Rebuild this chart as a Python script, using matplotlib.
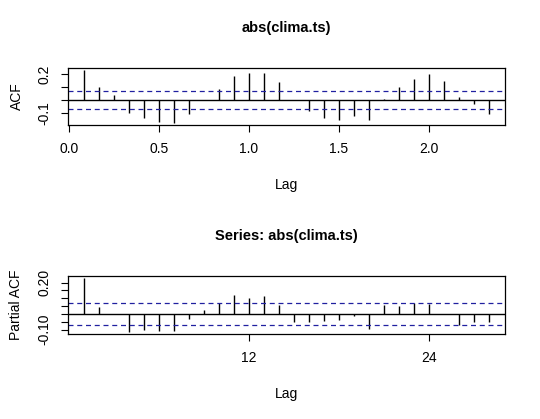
import matplotlib
matplotlib.use("Agg")
import matplotlib.pyplot as plt
import numpy as np

plt.rcParams['font.family'] = ['Liberation Sans', 'DejaVu Sans']

acf_lag = np.arange(1, 29) / 12
acf_vals = [0.23, 0.096, 0.036, -0.099, -0.14, -0.17, -0.177, -0.106, -0.005, 0.083,
            0.182, 0.203, 0.21, 0.138, -0.005, -0.09, -0.138, -0.156, -0.125, -0.158,
            0.01, 0.099, 0.16, 0.197, 0.145, 0.023, -0.036, -0.11]
pacf_lag = np.arange(1, 29)
pacf_vals = [0.228, 0.044, 0.0, -0.114, -0.103, -0.112, -0.107, -0.035, 0.026, 0.068,
             0.123, 0.103, 0.112, 0.055, -0.05, -0.053, -0.046, -0.037, -0.013, -0.099,
             0.055, 0.051, 0.07, 0.063, 0.0, -0.07, -0.05, -0.05]
ci = 0.071

fig = plt.figure(figsize=(5.4, 4.19), dpi=100)
fs = 10

def panel(rect, lag, vals, title, ylabel, xticks, xlabels, yticks, ylabels):
    ax = fig.add_axes(rect)
    ax.vlines(lag, 0, vals, color='black', lw=1)
    ax.axhline(0, color='black', lw=1)
    for s in (ci, -ci):
        ax.axhline(s, color='#2020a0', lw=0.9, ls=(0, (4, 3)))
    lo, hi = min(lag), max(lag)
    ex = (hi - lo) * 0.04
    ax.set_xlim(lo - ex, hi + ex)
    ylo, yhi = min(vals), max(vals)
    ey = (yhi - ylo) * 0.04
    ax.set_ylim(ylo - ey, yhi + ey)
    ax.set_xticks(xticks)
    ax.set_xticklabels(xlabels, fontsize=fs)
    ax.set_yticks(yticks)
    ax.set_yticklabels(ylabels, fontsize=fs, rotation=90, va='center')
    ax.tick_params(direction='out', length=5, width=0.8, pad=7)
    for sp in ax.spines.values():
        sp.set_linewidth(0.9)
    ax.set_title(title, fontsize=10.5, fontweight='bold', pad=26)
    ax.set_xlabel('Lag', fontsize=fs, labelpad=16)
    ax.set_ylabel(ylabel, fontsize=fs, labelpad=10)
    return ax

panel([0.126, 0.702, 0.809, 0.136], acf_lag, acf_vals, 'abs(clima.ts)', 'ACF',
      [0.0, 0.5, 1.0, 1.5, 2.0], ['0.0', '0.5', '1.0', '1.5', '2.0'],
      [-0.1, 0.0, 0.1, 0.2], ['-0.1', '', '', '0.2'])
panel([0.126, 0.203, 0.809, 0.138], pacf_lag, pacf_vals, 'Series: abs(clima.ts)', 'Partial ACF',
      [12, 24], ['12', '24'],
      [-0.10, -0.05, 0.0, 0.05, 0.10, 0.15, 0.20], ['-0.10', '', '', '', '', '', '0.20'])

fig.savefig('out.png', dpi=100)
